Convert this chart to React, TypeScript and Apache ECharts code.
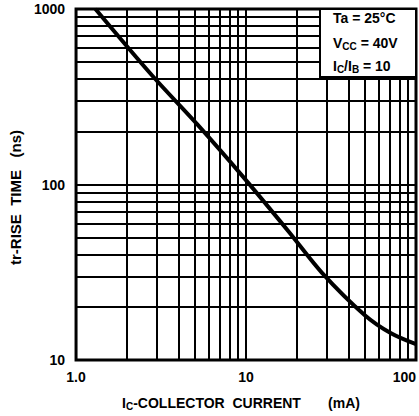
import { useEffect, useRef } from 'react';
import * as echarts from 'echarts';

// Rise time vs collector current (log-log)
const collectorCurrent = [1.3, 2.82, 5.17, 9.9, 17.8, 27.9, 50, 71.3, 100];
const riseTime = [1000, 415, 220, 107, 54, 31.5, 18, 14.2, 12.3];

// Minor grid lines inside each decade
const xGridMinor = [2, 3, 4, 5, 6, 7, 8, 9, 20, 30, 40, 50, 60, 70, 80, 90];
const yGridMinor = [20, 30, 40, 50, 60, 70, 80, 90, 200, 300, 400, 500, 600, 700, 800, 900];

const xTickLabels: Record<number, string> = { 1: '1.0', 10: '10', 100: '100' };
const yTickLabels: Record<number, string> = { 10: '10', 100: '100', 1000: '1000' };

const FONT = '"Liberation Sans", Arial, sans-serif';

export default function App() {
  const ref = useRef<HTMLDivElement>(null);

  useEffect(() => {
    if (!ref.current) return;
    const chart = echarts.init(ref.current, undefined, { renderer: 'svg' });

    const gridLine = { color: '#000', width: 2, type: 'solid' as const };
    const sub = { fontSize: 10, fontWeight: 'bold' as const, fontFamily: FONT, padding: [7, 0, 0, 0] };
    const main = { fontSize: 14, fontWeight: 'bold' as const, fontFamily: FONT };

    chart.setOption({
      animation: false,
      backgroundColor: '#fff',
      textStyle: { fontFamily: FONT },
      grid: {
        left: 62,
        right: 3,
        top: 9,
        bottom: 54,
        show: true,
        borderColor: '#000',
        borderWidth: 3,
        backgroundColor: 'transparent',
      },
      xAxis: {
        type: 'log',
        logBase: 10,
        min: 1,
        max: 100,
        axisLine: { show: false },
        axisTick: { show: false },
        splitLine: { show: true, lineStyle: gridLine },
        axisLabel: {
          margin: 10,
          color: '#000',
          fontSize: 14,
          fontWeight: 'bold',
          fontFamily: FONT,
          alignMaxLabel: 'right',
          formatter: (v: number) => xTickLabels[Math.round(v)] ?? '',
        },
        name: '{i|I}{s|C}{t|-COLLECTOR  CURRENT       (mA)}',
        nameLocation: 'middle',
        nameGap: 34,
        nameTextStyle: {
          padding: [0, 10, 0, 0],
          rich: {
            i: { ...main, color: '#000' },
            s: { ...sub, color: '#000' },
            t: { ...main, color: '#000' },
          },
        },
      },
      yAxis: {
        type: 'log',
        logBase: 10,
        min: 10,
        max: 1000,
        axisLine: { show: false },
        axisTick: { show: false },
        splitLine: { show: true, lineStyle: gridLine },
        axisLabel: {
          margin: 11,
          color: '#000',
          fontSize: 14,
          fontWeight: 'bold',
          fontFamily: FONT,
          formatter: (v: number) => yTickLabels[Math.round(v)] ?? '',
        },
        name: 'tr-RISE  TIME   (ns)',
        nameLocation: 'middle',
        nameGap: 43,
        nameTextStyle: { ...main, fontSize: 15, color: '#000', padding: [0, 26, 0, 0] },
      },
      series: [
        {
          type: 'line',
          data: [],
          silent: true,
          z: 1,
          markLine: {
            silent: true,
            symbol: ['none', 'none'],
            label: { show: false },
            lineStyle: gridLine,
            data: [
              ...xGridMinor.map((v) => ({ xAxis: v })),
              ...yGridMinor.map((v) => ({ yAxis: v })),
            ],
          },
        },
        {
          type: 'line',
          z: 5,
          smooth: 0.3,
          showSymbol: false,
          silent: true,
          lineStyle: { color: '#000', width: 4 },
          data: collectorCurrent.map((c, i) => [c, riseTime[i]]),
        },
      ],
      graphic: [
        {
          type: 'rect',
          z: 100,
          shape: { x: 320, y: 9, width: 96, height: 68 },
          style: { fill: '#fff', stroke: '#000', lineWidth: 2 },
        },
        {
          type: 'text',
          z: 101,
          x: 333,
          y: 11,
          style: {
            text: 'Ta = 25°C',
            fill: '#000',
            font: `bold 14px ${FONT}`,
          },
        },
        {
          type: 'text',
          z: 101,
          x: 333,
          y: 34,
          style: {
            text: '{a|V}{s|CC}{a| = 40V}',
            rich: {
              a: { ...main, fill: '#000' },
              s: { ...sub, fill: '#000' },
            },
          },
        },
        {
          type: 'text',
          z: 101,
          x: 333,
          y: 57,
          style: {
            text: '{a|I}{s|C}{a|/I}{s|B}{a| = 10}',
            rich: {
              a: { ...main, fill: '#000' },
              s: { ...sub, fill: '#000' },
            },
          },
        },
      ],
    });

    return () => chart.dispose();
  }, []);

  return (
    <div
      ref={ref}
      style={{ position: 'absolute', left: 0, top: 0, width: 419, height: 416 }}
    />
  );
}
